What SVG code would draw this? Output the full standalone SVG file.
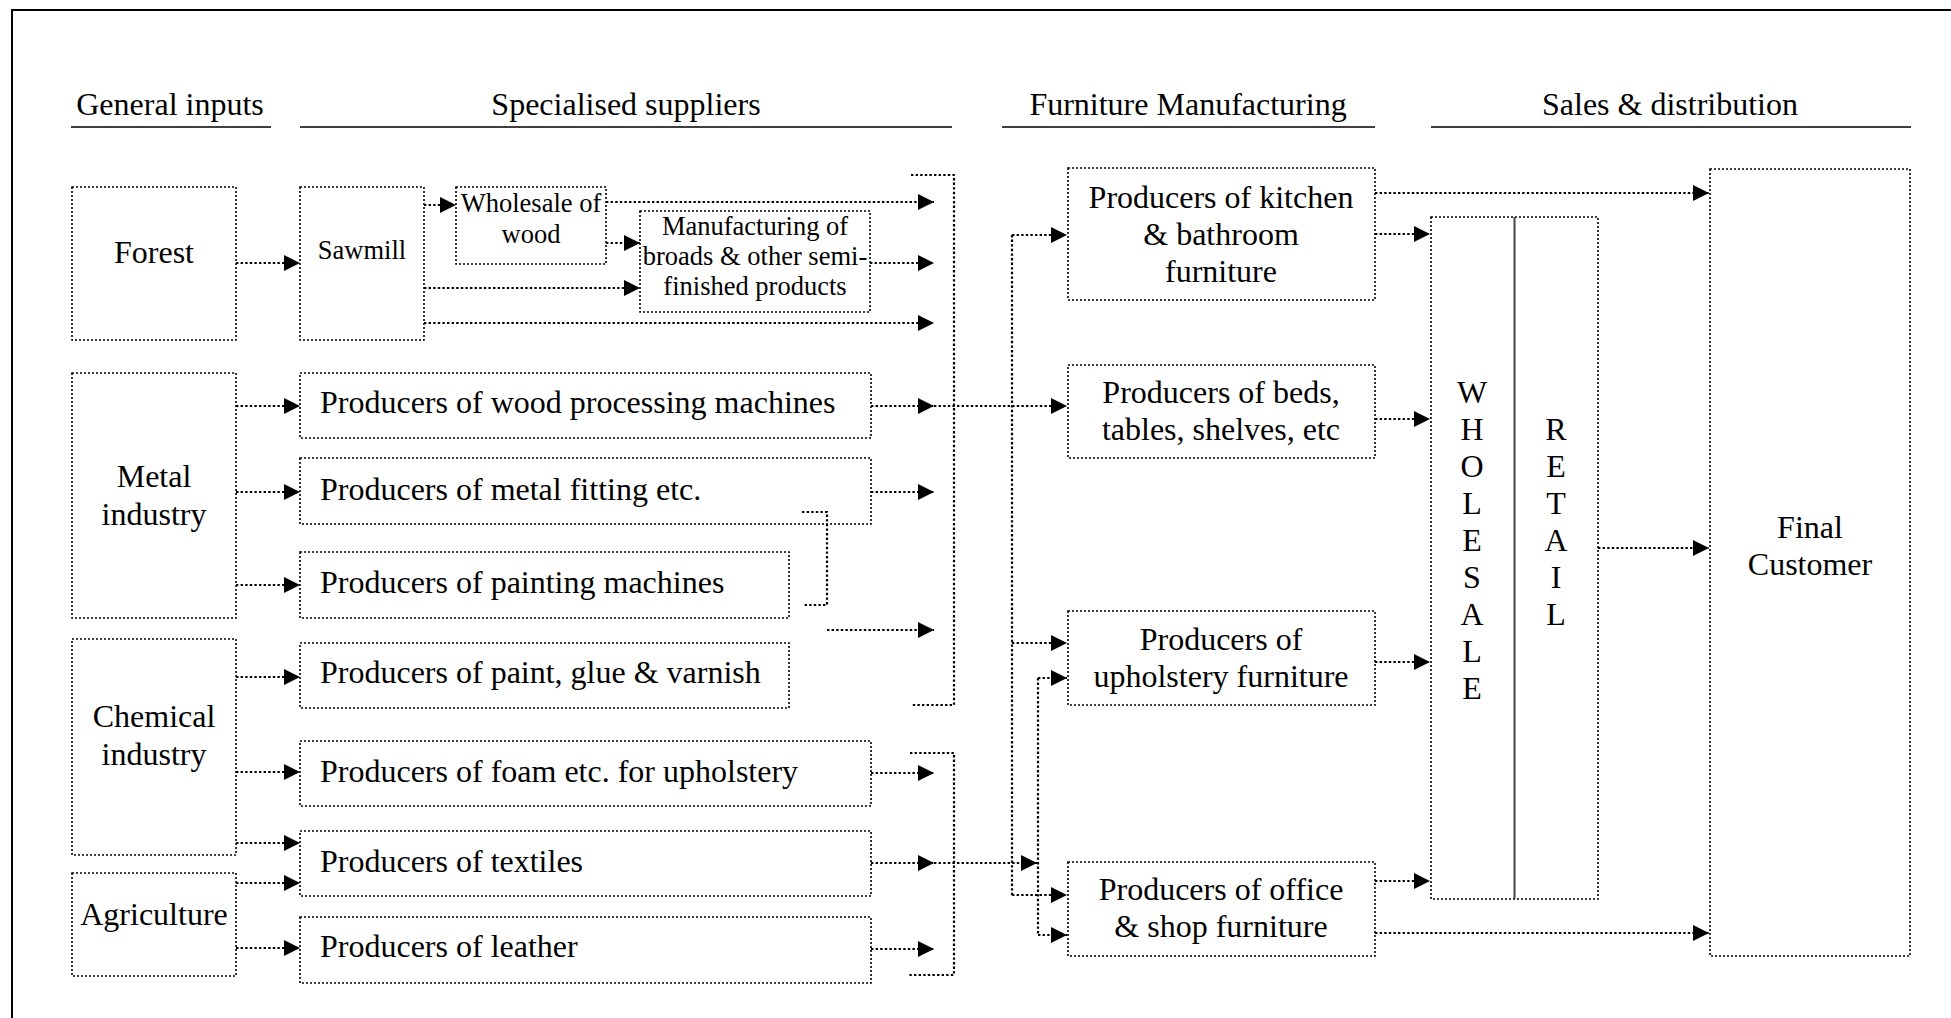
<svg xmlns="http://www.w3.org/2000/svg" width="1951" height="1018" viewBox="0 0 1951 1018">
<style>
text{font-family:"Liberation Serif","Times New Roman",serif;fill:#000}
.t{font-size:32px}
.s{font-size:26.5px}
.c{text-anchor:middle}
.box{fill:none;stroke:#000;stroke-width:1.6;stroke-dasharray:2 2}
.ln{fill:none;stroke:#000;stroke-width:2.2;stroke-dasharray:2.4 2.2}
.ar{marker-end:url(#ah)}
.hd{stroke:#000;stroke-width:1.6}
</style>
<defs>
<marker id="ah" markerUnits="userSpaceOnUse" markerWidth="16" markerHeight="16" refX="15" refY="7.5" orient="auto" viewBox="0 0 15 15">
<path d="M0,0 L15,7.5 L0,15 z" fill="#000"/>
</marker>
</defs>
<rect width="1951" height="1018" fill="#fff"/>
<path d="M12,1018 V10 H1951" fill="none" stroke="#000" stroke-width="2"/>
<g id="headers">
<text class="t c" x="170" y="115">General inputs</text>
<line class="hd" x1="71" y1="127" x2="271" y2="127"/>
<text class="t c" x="626" y="115">Specialised suppliers</text>
<line class="hd" x1="300" y1="127" x2="952" y2="127"/>
<text class="t c" x="1188" y="115">Furniture Manufacturing</text>
<line class="hd" x1="1002" y1="127" x2="1375" y2="127"/>
<text class="t c" x="1670" y="115">Sales &amp; distribution</text>
<line class="hd" x1="1431" y1="127" x2="1911" y2="127"/>
</g>
<g id="connectors">
<path class="ln ar" d="M236,263 H300"/>
<path class="ln ar" d="M424,205 H456"/>
<path class="ln ar" d="M606,202 H934"/>
<path class="ln ar" d="M606,243 H640"/>
<path class="ln ar" d="M870,263 H934"/>
<path class="ln ar" d="M424,288 H640"/>
<path class="ln ar" d="M424,323 H934"/>
<path class="ln ar" d="M236,406 H300"/>
<path class="ln ar" d="M236,492 H300"/>
<path class="ln ar" d="M236,585 H300"/>
<path class="ln ar" d="M236,677 H300"/>
<path class="ln ar" d="M236,772 H300"/>
<path class="ln ar" d="M236,843 H300"/>
<path class="ln ar" d="M236,883 H300"/>
<path class="ln ar" d="M236,948 H300"/>
<path class="ln ar" d="M871,406 H934"/>
<path class="ln ar" d="M934,406 H1067"/>
<path class="ln ar" d="M871,492 H934"/>
<path class="ln" d="M802,512 H827 V605 H803"/>
<path class="ln ar" d="M827,630 H934"/>
<path class="ln ar" d="M871,773 H934"/>
<path class="ln ar" d="M871,863 H934"/>
<path class="ln ar" d="M934,863 H1037"/>
<path class="ln ar" d="M871,949 H934"/>
<path class="ln" d="M911,175 H954 V705 H912"/>
<path class="ln" d="M910,753 H954 V975 H909"/>
<path class="ln" d="M1012,235 V895"/>
<path class="ln ar" d="M1012,235 H1067"/>
<path class="ln ar" d="M1012,643 H1067"/>
<path class="ln ar" d="M1012,895 H1067"/>
<path class="ln" d="M1038,678 V935"/>
<path class="ln ar" d="M1038,678 H1067"/>
<path class="ln ar" d="M1038,935 H1067"/>
<path class="ln ar" d="M1375,193 H1709"/>
<path class="ln ar" d="M1375,234 H1430"/>
<path class="ln ar" d="M1375,419 H1430"/>
<path class="ln ar" d="M1375,662 H1430"/>
<path class="ln ar" d="M1375,881 H1430"/>
<path class="ln ar" d="M1375,933 H1709"/>
<path class="ln ar" d="M1598,548 H1709"/>
</g>
<g id="forest"><rect class="box" x="72" y="187" width="164" height="153"/><text class="t c" x="154" y="263">Forest</text></g>
<g id="sawmill"><rect class="box" x="300" y="187" width="124" height="153"/><text class="s c" x="362" y="259">Sawmill</text></g>
<g id="wholesale-wood"><rect class="box" x="456" y="187" width="150" height="77"/><text class="s c" x="531" y="212">Wholesale of</text><text class="s c" x="531" y="243">wood</text></g>
<g id="manufacturing-broads"><rect class="box" x="640" y="211" width="230" height="101"/><text class="s c" x="755" y="235">Manufacturing of</text><text class="s c" x="755" y="265">broads &amp; other semi-</text><text class="s c" x="755" y="295">finished products</text></g>
<g id="metal"><rect class="box" x="72" y="373" width="164" height="245"/><text class="t c" x="154" y="487">Metal</text><text class="t c" x="154" y="525">industry</text></g>
<g id="wood-machines"><rect class="box" x="300" y="373" width="571" height="65"/><text class="t" x="320" y="413">Producers of wood processing machines</text></g>
<g id="metal-fitting"><rect class="box" x="300" y="458" width="571" height="66"/><text class="t" x="320" y="500">Producers of metal fitting etc.</text></g>
<g id="painting-machines"><rect class="box" x="300" y="552" width="489" height="66"/><text class="t" x="320" y="593">Producers of painting machines</text></g>
<g id="chemical"><rect class="box" x="72" y="639" width="164" height="216"/><text class="t c" x="154" y="727">Chemical</text><text class="t c" x="154" y="765">industry</text></g>
<g id="paint-glue"><rect class="box" x="300" y="643" width="489" height="65"/><text class="t" x="320" y="683">Producers of paint, glue &amp; varnish</text></g>
<g id="foam"><rect class="box" x="300" y="741" width="571" height="65"/><text class="t" x="320" y="782">Producers of foam etc. for upholstery</text></g>
<g id="textiles"><rect class="box" x="300" y="831" width="571" height="65"/><text class="t" x="320" y="872">Producers of textiles</text></g>
<g id="agriculture"><rect class="box" x="72" y="873" width="164" height="103"/><text class="t c" x="154" y="925">Agriculture</text></g>
<g id="leather"><rect class="box" x="300" y="917" width="571" height="66"/><text class="t" x="320" y="957">Producers of leather</text></g>
<g id="kitchen"><rect class="box" x="1068" y="168" width="307" height="132"/><text class="t c" x="1221" y="208">Producers of kitchen</text><text class="t c" x="1221" y="245">&amp; bathroom</text><text class="t c" x="1221" y="282">furniture</text></g>
<g id="beds"><rect class="box" x="1068" y="365" width="307" height="93"/><text class="t c" x="1221" y="403">Producers of beds,</text><text class="t c" x="1221" y="440">tables, shelves, etc</text></g>
<g id="upholstery"><rect class="box" x="1068" y="611" width="307" height="94"/><text class="t c" x="1221" y="650">Producers of</text><text class="t c" x="1221" y="687">upholstery furniture</text></g>
<g id="office"><rect class="box" x="1068" y="862" width="307" height="94"/><text class="t c" x="1221" y="900">Producers of office</text><text class="t c" x="1221" y="937">&amp; shop furniture</text></g>
<g id="wholesale-retail"><rect class="box" x="1431" y="217" width="167" height="682"/><line x1="1514.5" y1="217" x2="1514.5" y2="899" stroke="#444" stroke-width="2"/>
<text class="t c" x="1472" y="403">W</text><text class="t c" x="1472" y="440">H</text><text class="t c" x="1472" y="477">O</text><text class="t c" x="1472" y="514">L</text><text class="t c" x="1472" y="551">E</text><text class="t c" x="1472" y="588">S</text><text class="t c" x="1472" y="625">A</text><text class="t c" x="1472" y="662">L</text><text class="t c" x="1472" y="699">E</text>
<text class="t c" x="1556" y="440">R</text><text class="t c" x="1556" y="477">E</text><text class="t c" x="1556" y="514">T</text><text class="t c" x="1556" y="551">A</text><text class="t c" x="1556" y="588">I</text><text class="t c" x="1556" y="625">L</text></g>
<g id="final-customer"><rect class="box" x="1710" y="169" width="200" height="787"/><text class="t c" x="1810" y="538">Final</text><text class="t c" x="1810" y="575">Customer</text></g>
</svg>
